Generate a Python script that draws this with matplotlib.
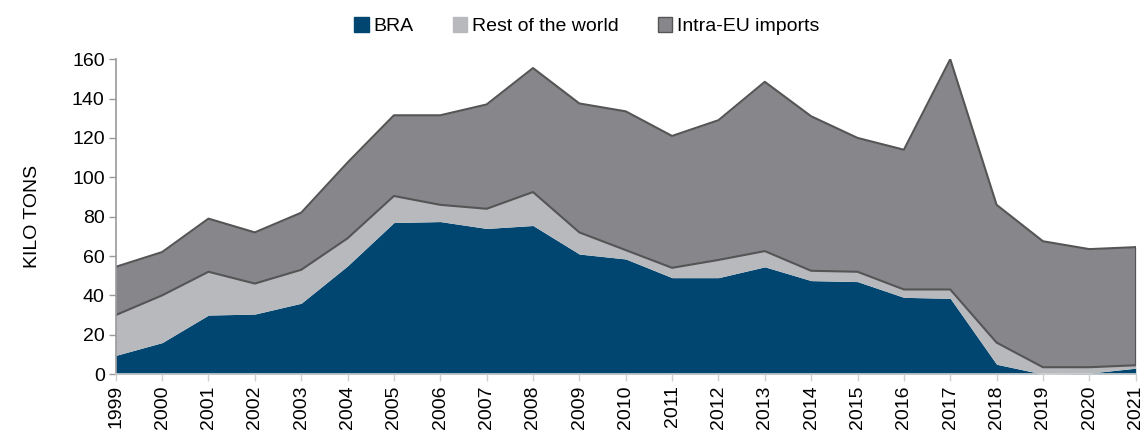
import matplotlib
matplotlib.use("Agg")
import matplotlib.pyplot as plt
import numpy as np
from matplotlib.patches import Patch

years = list(range(1999, 2022))
bra = [9.5, 16, 30, 30.5, 36, 55, 77, 77.5, 74, 75.5, 61, 58.5, 49, 49, 54.5, 47.5, 47, 39, 38.5, 5, 0, 0.5, 3]
row_cum = [30, 40, 52, 46, 53, 69, 90.5, 86, 84, 92.5, 72, 63, 54, 58, 62.5, 52.5, 52, 43, 43, 16, 3.5, 3.5, 4.5]
total = [54.5, 62, 79, 72, 82, 107.5, 131.5, 131.5, 137, 155.5, 137.5, 133.5, 121, 129, 148.5, 131, 120, 114, 160, 86, 67.5, 63.5, 64.5]
rest = [r - b for r, b in zip(row_cum, bra)]
intra = [t - r for t, r in zip(total, row_cum)]

plt.rcParams['font.family'] = ['Liberation Sans', 'DejaVu Sans']

c_bra = '#004670'
c_row = '#B8B9BD'
c_eu = '#87868B'
edge = '#555555'

fig = plt.figure(figsize=(11.46, 4.32), dpi=100)
ax = fig.add_axes([0.101, 0.134, 0.890, 0.729])

x = np.array(years)
y1 = np.array(bra)
y2 = y1 + np.array(rest)
y3 = y2 + np.array(intra)
ax.fill_between(x, 0, y1, color=c_bra, lw=0)
ax.fill_between(x, y1, y2, color=c_row, lw=0)
ax.fill_between(x, y2, y3, color=c_eu, lw=0)
ax.plot(x, y2, color=edge, lw=1.5)
ax.plot(x, y3, color=edge, lw=1.5)
ax.plot([x[-1], x[-1]], [y2[-1], y3[-1]], color=edge, lw=1.5)

ax.set_xlim(1999, 2021)
ax.set_ylim(0, 160)
ax.set_yticks(range(0, 161, 20))
ax.set_xticks(years)
ax.set_xticklabels([str(y) for y in years], rotation=90)
ax.tick_params(axis='both', labelsize=14, colors='#000000')
ax.tick_params(axis='y', length=5, color='#999999', direction='out', width=1, pad=3)
ax.tick_params(axis='x', length=5, color='#d0d0d0', direction='out', width=1, pad=3)
for s in ['top', 'right']:
    ax.spines[s].set_visible(False)
ax.spines['left'].set_color('#999999')
ax.spines['left'].set_linewidth(1.2)
ax.spines['bottom'].set_color('#d0d0d0')
ax.spines['bottom'].set_linewidth(1.2)
ax.set_ylabel('KILO TONS', fontsize=14, labelpad=22)

handles = [Patch(facecolor=c_bra, edgecolor=c_bra, label='BRA'),
           Patch(facecolor=c_row, edgecolor=c_row, label='Rest of the world'),
           Patch(facecolor=c_eu, edgecolor=edge, label='Intra-EU imports')]
fig.legend(handles=handles, loc='upper center', bbox_to_anchor=(0.512, 1.0), ncol=3,
           frameon=False, fontsize=14, handlelength=0.75, handleheight=0.75,
           handletextpad=0.25, columnspacing=2.0)

fig.savefig('out.png', dpi=100)
